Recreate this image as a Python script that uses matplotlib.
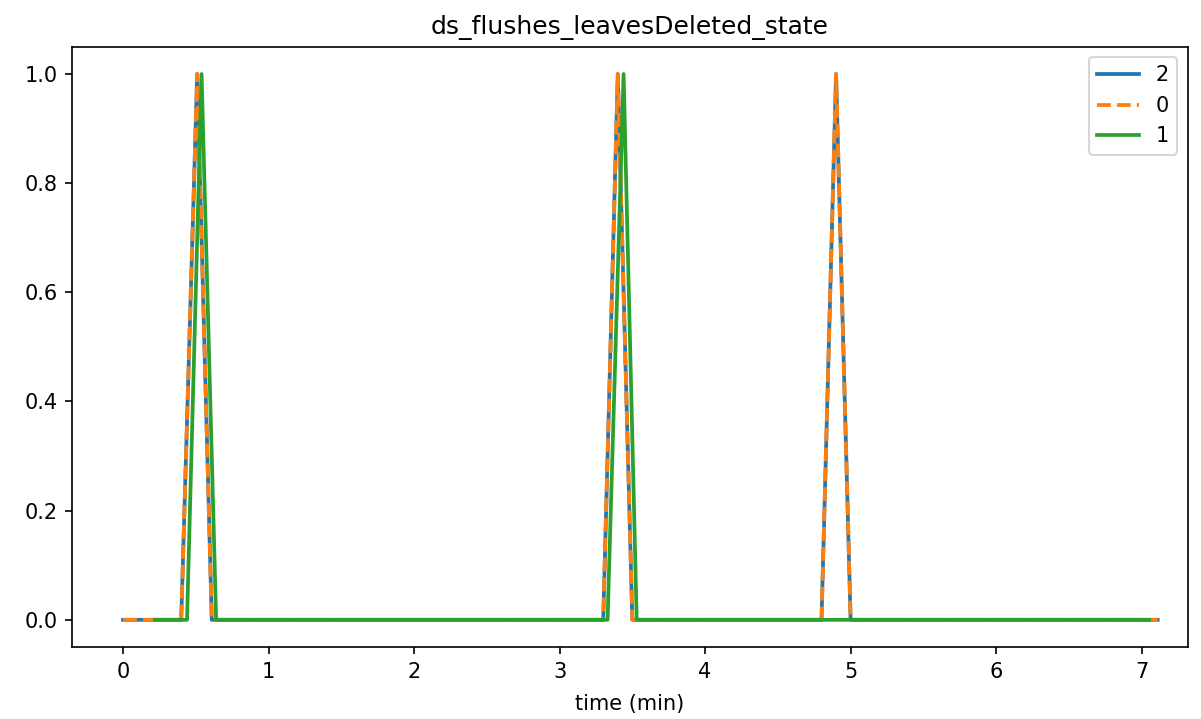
import matplotlib
matplotlib.use("Agg")
import matplotlib.pyplot as plt

# series "2" and "0" share the same change points
t_20 = [0.0, 0.40, 0.51, 0.61, 3.30, 3.40, 3.50, 4.80, 4.90, 5.00, 7.11]
v_20 = [0, 0, 1, 0, 0, 1, 0, 0, 1, 0, 0]

t_1 = [0.22, 0.44, 0.54, 0.64, 3.33, 3.44, 3.53, 7.05]
v_1 = [0, 0, 1, 0, 0, 1, 0, 0]

fig, ax = plt.subplots(figsize=(1201 / 150, 719 / 150), dpi=150)
ax.plot(t_20, v_20, color='C0', lw=1.8, label='2')
ax.plot(t_20, v_20, color='C1', lw=1.8, linestyle='--', label='0')
ax.plot(t_1, v_1, color='C2', lw=1.8, label='1')

ax.set_title('ds_flushes_leavesDeleted_state')
ax.set_xlabel('time (min)', labelpad=6)
ax.set_xlim(-0.35, 7.317)
ax.legend(loc='upper right')
fig.subplots_adjust(left=0.060, right=0.989, top=0.935, bottom=0.100)
fig.savefig('out.png', dpi=150)
